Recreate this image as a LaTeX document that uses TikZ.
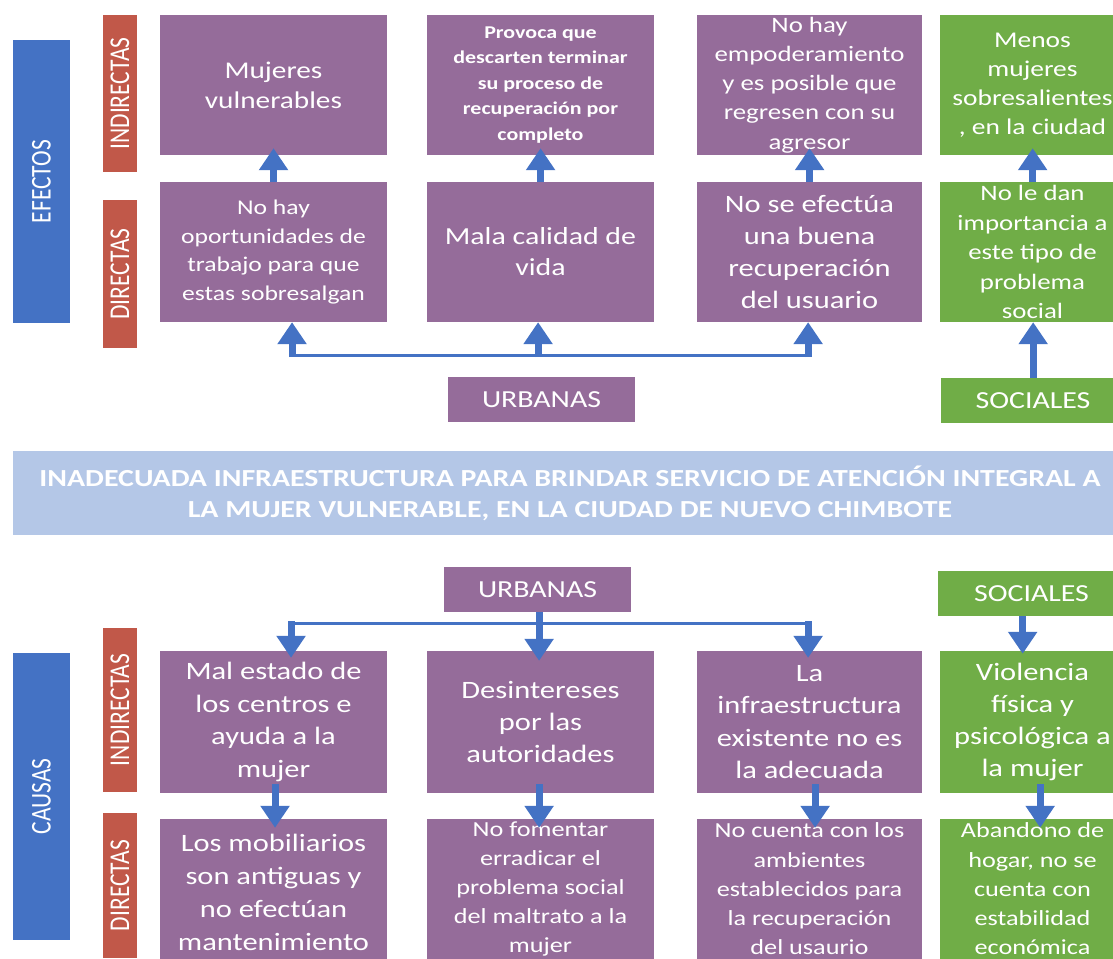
\documentclass[tikz,border=0pt]{standalone}
\usepackage{fontspec}
\setmainfont{Carlito}
\usetikzlibrary{arrows.meta,calc}
\definecolor{purp}{RGB}{149,108,154}
\definecolor{grn}{RGB}{112,173,71}
\definecolor{redb}{RGB}{193,88,73}
\definecolor{blu}{RGB}{68,114,196}
\definecolor{ttl}{RGB}{180,199,231}
\newcommand\fsz[2]{\fontsize{#1}{#2}\selectfont}
\begin{document}
\begin{tikzpicture}[x=0.819672pt,y=-1pt,xscale=1.22,transform shape,
  sz/.style 2 args={minimum width=#1pt/1.22,minimum height=#2pt},
  vb/.style 2 args={rotate=90,minimum width=#1pt,minimum height=#2pt/1.22,inner sep=0pt,text=white,font=\fsz{23.5}{28}},
  box/.style={inner sep=0pt,text=white,align=center},
  pb/.style={box,fill=purp},
  gb/.style={box,fill=grn},
  arr/.style={draw=blu,line width=7pt,-{Triangle[width=28pt,length=22pt]}},
  hl/.style={draw=blu,line width=3pt}]
\useasboundingbox (0,0) rectangle (1113,958);
\clip (0,0) rectangle (1113,958);
\fill[white] (0,0) rectangle (1113,958);
% ---------- EFECTOS ----------
\node[vb={283}{57},fill=blu] (efe) at (41.5,181.5) {EFECTOS};
\node[vb={157}{34},fill=redb] (ind1) at (120,93.5) {INDIRECTAS};
\node[vb={148}{34},fill=redb] (dir1) at (120,274) {DIRECTAS};
\node[pb,sz={227}{140},font=\fsz{24}{30}] (a1) at (273.5,85) {Mujeres\\vulnerables};
\node[pb,sz={227}{140},font=\bfseries\fsz{18}{25.5}] (a2) at (540.5,85) {Provoca que\\descarten terminar\\su proceso de\\recuperación por\\completo};
\node[pb,sz={225}{140},font=\fsz{22}{29.2}] (a3) at (809.5,85) {No hay\\empoderamiento\\y es posible que\\regresen con su\\agresor};
\node[gb,sz={185}{140},font=\fsz{22.5}{29}] (a4) at (1032.5,85) {Menos\\mujeres\\sobresalientes\\, en la ciudad};
\node[pb,sz={227}{140},font=\fsz{21}{28.7}] (b1) at (273.5,252) {No hay\\oportunidades de\\trabajo para que\\estas sobresalgan};
\node[pb,sz={227}{140},font=\fsz{24.5}{31}] (b2) at (540.5,252) {Mala calidad de\\vida};
\node[pb,sz={225}{140},font=\fsz{25}{32.3}] (b3) at (809.5,252) {No se efectúa\\una buena\\recuperación\\del usuario};
\node[gb,sz={185}{140},font=\fsz{22}{29.5}] (b4) at (1032.5,252) {No le dan\\importancia a\\este tipo de\\problema\\social};
\node[pb,sz={187}{45},font=\fsz{24.5}{28}] (urb1) at (541.5,399.5) {URBANAS};
\node[gb,sz={184}{45},font=\fsz{24.5}{28}] (soc1) at (1033,400.5) {SOCIALES};
\coordinate (j1) at (292,355);
\coordinate (j2) at (538,355);
\coordinate (j3) at (808,355);
\draw[arr] (b1.north) -- ($(a1.south)+(0,-7)$);
\draw[arr] (b2.north) -- ($(a2.south)+(0,-7)$);
\draw[arr] (b3.north) -- ($(a3.south)+(0,-7)$);
\draw[arr] (b4.north) -- ($(a4.south)+(0,-7)$);
\draw[hl] (j1) -- (j3);
\draw[arr] ($(j1)+(0,2)$) -- (j1 |- b1.south);
\draw[arr] ($(j2)+(0,2)$) -- (j2 |- b2.south);
\draw[arr] ($(j3)+(0,2)$) -- (j3 |- b3.south);
\draw[arr] (soc1.north) -- (soc1.north |- b4.south);
% ---------- TITLE ----------
\node[box,fill=ttl,sz={1114}{84},font=\bfseries\fsz{24.5}{31}] (tit) at (570,493) {INADECUADA INFRAESTRUCTURA PARA BRINDAR SERVICIO DE ATENCIÓN INTEGRAL A\\LA MUJER VULNERABLE, EN LA CIUDAD DE NUEVO CHIMBOTE};
% ---------- CAUSAS ----------
\node[pb,sz={187}{45},font=\fsz{24.5}{28}] (urb2) at (537.5,589.5) {URBANAS};
\node[gb,sz={187}{45},font=\fsz{24.5}{28}] (soc2) at (1031.5,593.5) {SOCIALES};
\node[vb={287}{57},fill=blu] (cau) at (41.5,796.5) {CAUSAS};
\node[vb={164}{34},fill=redb] (ind2) at (120,710) {INDIRECTAS};
\node[vb={145}{34},fill=redb] (dir2) at (120,885.5) {DIRECTAS};
\node[pb,sz={227}{142},font=\fsz{25}{32.7}] (c1) at (273.5,722) {Mal estado de\\los centros e\\ayuda a la\\mujer};
\node[pb,sz={227}{142},font=\fsz{25}{32}] (c2) at (540.5,722) {Desintereses\\por las\\autoridades};
\node[pb,sz={225}{142},font=\fsz{25}{32.3}] (c3) at (809.5,722) {La\\infraestructura\\existente no es\\la adecuada};
\node[gb,sz={185}{142},font=\fsz{25}{32.3}] (c4) at (1032.5,722) {Violencia\\física y\\psicológica a\\la mujer};
\node[pb,sz={227}{146},font=\fsz{25}{33}] (d1) at (273.5,892) {Los mobiliarios\\son antiguas y\\no efectúan\\mantenimiento};
\node[pb,sz={227}{140},font=\fsz{21.5}{29.2}] (d2) at (540.5,889) {No fomentar\\erradicar el\\problema social\\del maltrato a la\\mujer};
\node[pb,sz={225}{140},font=\fsz{21.5}{29.2}] (d3) at (809.5,889) {No cuenta con los\\ambientes\\establecidos para\\la recuperación\\del usaurio};
\node[gb,sz={185}{140},font=\fsz{21.5}{29.2}] (d4) at (1032.5,889) {Abandono de\\hogar, no se\\cuenta con\\estabilidad\\económica};
\coordinate (k1) at (291,623);
\coordinate (k3) at (808,623);
\draw[hl] (k1) -- (k3);
\draw[arr] ($(k1)+(0,-2)$) -- ($(k1 |- c1.north)+(0,7)$);
\draw[arr] ($(urb2.south)+(1.5,0)$) -- ($(urb2.south |- c2.north)+(1.5,10)$);
\draw[arr] ($(k3)+(0,-2)$) -- ($(k3 |- c3.north)+(0,7)$);
\draw[arr] ($(soc2.south)+(-9,0)$) -- ($(soc2.south |- c4.north)+(-9,3)$);
\draw[arr] ($(c1.south)+(1.5,-9)$) -- ($(d1.north)+(1.5,9)$);
\draw[arr] ($(c2.south)+(-1.5,-9)$) -- ($(d2.north)+(-1.5,9)$);
\draw[arr] ($(c3.south)+(5.5,-9)$) -- ($(d3.north)+(5.5,9)$);
\draw[arr] ($(c4.south)+(7.5,-9)$) -- ($(d4.north)+(7.5,9)$);
\end{tikzpicture}
\end{document}
